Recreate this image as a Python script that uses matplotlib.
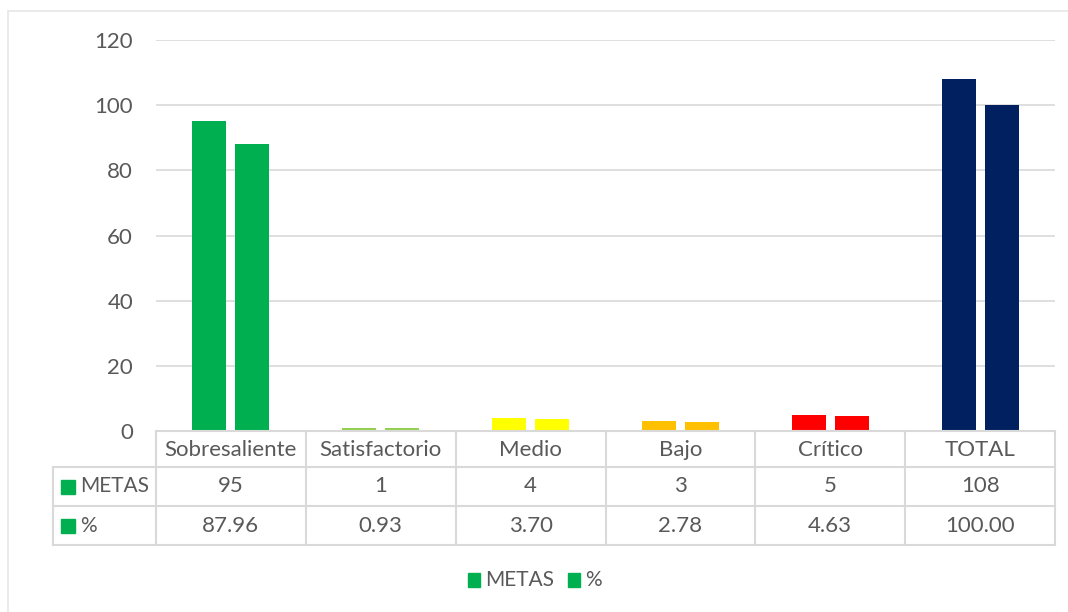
import matplotlib
matplotlib.use("Agg")
import matplotlib.pyplot as plt
from matplotlib.patches import Rectangle
from matplotlib.lines import Line2D
import numpy as np

categories = ["Sobresaliente", "Satisfactorio", "Medio", "Bajo", "Crítico", "TOTAL"]
metas = [95, 1, 4, 3, 5, 108]
pct = [87.96, 0.93, 3.70, 2.78, 4.63, 100.00]
series_names = ["METAS", "%"]
bar_colors = ["#00B050", "#92D050", "#FFFF00", "#FFC000", "#FF0000", "#002060"]
legend_color = "#00B050"
yticks = [0, 20, 40, 60, 80, 100, 120]

W, H = 1068, 612
plt.rcParams['font.family'] = ['Lato', 'DejaVu Sans']
TXT = "#595959"
GRID = "#D9D9D9"
FS = 16
FS_ROW = 15

fig = plt.figure(figsize=(W / 100, H / 100), dpi=100)

def fx(px):
    return px / W

def fy(py):
    return 1 - py / H

# chart border
fig.add_artist(Rectangle((fx(8), fy(640)), fx(1100) - fx(8), fy(11) - fy(640),
                         transform=fig.transFigure, fill=False, edgecolor="#E6E6E6", lw=1.2))

L, R, T, B = 156, 1055, 40, 431
ax = fig.add_axes([fx(L), fy(B), fx(R) - fx(L), fy(T) - fy(B)])
n = len(categories)
x = np.arange(n)
w = 0.227
off = 0.143
ax.bar(x - off, metas, width=w, color=bar_colors, zorder=3)
ax.bar(x + off, pct, width=w, color=bar_colors, zorder=3)
ax.set_xlim(-0.5, n - 0.5)
ax.set_ylim(0, 120)
ax.set_yticks(yticks)
ax.set_yticklabels([str(t) for t in yticks], fontsize=FS, color=TXT)
ax.tick_params(axis='y', length=0, pad=16.5)
ax.set_xticks([])
ax.yaxis.grid(True, color=GRID, lw=1.2, zorder=0)
for s in ax.spines.values():
    s.set_visible(False)

# data table
lc = GRID
lw = 1.5
rows_y = [431, 467, 506, 545]
col_x = [L + (R - L) * i / n for i in range(n + 1)]
tleft = 53

def hline(y, x0, x1):
    fig.add_artist(Line2D([fx(x0), fx(x1)], [fy(y), fy(y)], transform=fig.transFigure, color=lc, lw=lw))

def vline(xp, y0, y1):
    fig.add_artist(Line2D([fx(xp), fx(xp)], [fy(y0), fy(y1)], transform=fig.transFigure, color=lc, lw=lw))

hline(rows_y[0], L, R)
for yy in rows_y[1:]:
    hline(yy, tleft, R)
for xp in col_x:
    vline(xp, rows_y[0], rows_y[-1])
vline(tleft, rows_y[1], rows_y[-1])

for i, c in enumerate(categories):
    cx = (col_x[i] + col_x[i + 1]) / 2
    fig.text(fx(cx), fy((rows_y[0] + rows_y[1]) / 2 + 1), c, ha='center', va='center', fontsize=FS, color=TXT)
    fig.text(fx(cx), fy((rows_y[1] + rows_y[2]) / 2), f"{metas[i]}", ha='center', va='center', fontsize=FS, color=TXT)
    fig.text(fx(cx), fy((rows_y[2] + rows_y[3]) / 2), f"{pct[i]:.2f}", ha='center', va='center', fontsize=FS, color=TXT)

for r, name in enumerate(series_names):
    yc = (rows_y[r + 1] + rows_y[r + 2]) / 2
    fig.add_artist(Rectangle((fx(61), fy(yc + 7)), fx(14), fy(0) - fy(14), transform=fig.transFigure,
                             color=legend_color))
    fig.text(fx(80), fy(yc), name, ha='left', va='center', fontsize=FS_ROW, color=TXT)

# legend (laid out from measured text widths, centred)
leg_y = 580
renderer = fig.canvas.get_renderer()
sq = 12
gap_sq_txt = 5
gap_items = 14
widths = []
for name in series_names:
    t = fig.text(0, 0, name, fontsize=FS_ROW)
    widths.append(t.get_window_extent(renderer).width)
    t.remove()
total = sum(sq + gap_sq_txt + wd for wd in widths) + gap_items * (len(widths) - 1)
xcur = 535 - total / 2
for name, wd in zip(series_names, widths):
    fig.add_artist(Rectangle((fx(xcur), fy(leg_y + 7)), fx(sq), fy(0) - fy(14), transform=fig.transFigure,
                             color=legend_color))
    fig.text(fx(xcur + sq + gap_sq_txt), fy(leg_y), name, ha='left', va='center', fontsize=FS_ROW, color=TXT)
    xcur += sq + gap_sq_txt + wd + gap_items

fig.savefig("out.png", dpi=100)
